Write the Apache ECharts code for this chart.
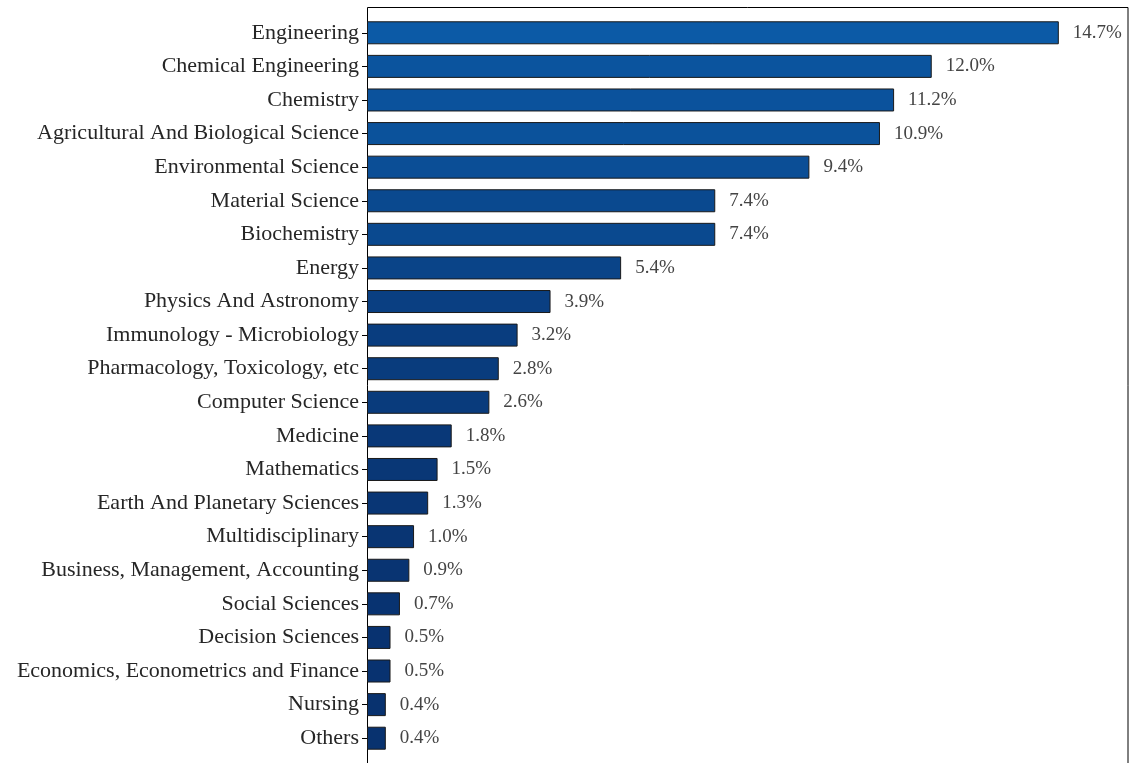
<!DOCTYPE html>
<html>
<head>
<meta charset="utf-8">
<script src="https://cdn.jsdelivr.net/npm/echarts@6/dist/echarts.min.js"></script>
<style>
  html, body { margin: 0; padding: 0; background: #fff; }
  #chart { width: 1129px; height: 763px; }
</style>
</head>
<body>
<div id="chart"></div>
<script>
// subject areas, top to bottom
const subjects = [
  'Engineering', 'Chemical Engineering', 'Chemistry', 'Agricultural And Biological Science',
  'Environmental Science', 'Material Science', 'Biochemistry', 'Energy',
  'Physics And Astronomy', 'Immunology - Microbiology', 'Pharmacology, Toxicology, etc',
  'Computer Science', 'Medicine', 'Mathematics', 'Earth And Planetary Sciences',
  'Multidisciplinary', 'Business, Management, Accounting', 'Social Sciences',
  'Decision Sciences', 'Economics, Econometrics and Finance', 'Nursing', 'Others'
];
const shares = [14.7, 12.0, 11.2, 10.9, 9.4, 7.4, 7.4, 5.4, 3.9, 3.2, 2.8, 2.6,
  1.8, 1.5, 1.3, 1.0, 0.9, 0.7, 0.5, 0.5, 0.4, 0.4];

const FONT = 'Liberation Serif';
const maxShare = Math.max(...shares);

// dark -> light blue by share
function barColor(v) {
  const lo = [8, 46, 106], hi = [12, 90, 166];
  const t = Math.pow(v / maxShare, 0.7);
  const c = lo.map((a, i) => Math.round(a + (hi[i] - a) * t));
  return 'rgb(' + c.join(',') + ')';
}

const chart = echarts.init(document.getElementById('chart'));
chart.setOption({
  animation: false,
  grid: { left: 367, right: 1, top: 16, bottom: 8 },
  xAxis: {
    type: 'value', min: 0, max: maxShare * 1.1,
    show: false
  },
  yAxis: {
    type: 'category', data: subjects, inverse: true,
    axisLine: { show: false },
    axisTick: { show: true, length: 5, lineStyle: { color: '#000' }, alignWithLabel: true },
    axisLabel: { color: '#262626', fontFamily: FONT, fontSize: 22, margin: 8 }
  },
  series: [{
    type: 'bar',
    barWidth: 23,
    data: shares.map(v => ({ value: v, itemStyle: { color: barColor(v) } })),
    itemStyle: { borderColor: '#1a1a1a', borderWidth: 1 },
    label: {
      show: true, position: 'right', distance: 14,
      color: '#444', fontFamily: FONT, fontSize: 19,
      formatter: p => p.value.toFixed(1) + '%'
    }
  }],
  graphic: [{
    type: 'rect', silent: true,
    shape: { x: 367.5, y: 7.5, width: 760.5, height: 770 },
    style: { fill: null, stroke: '#000', lineWidth: 1 }
  }]
});
</script>
</body>
</html>
